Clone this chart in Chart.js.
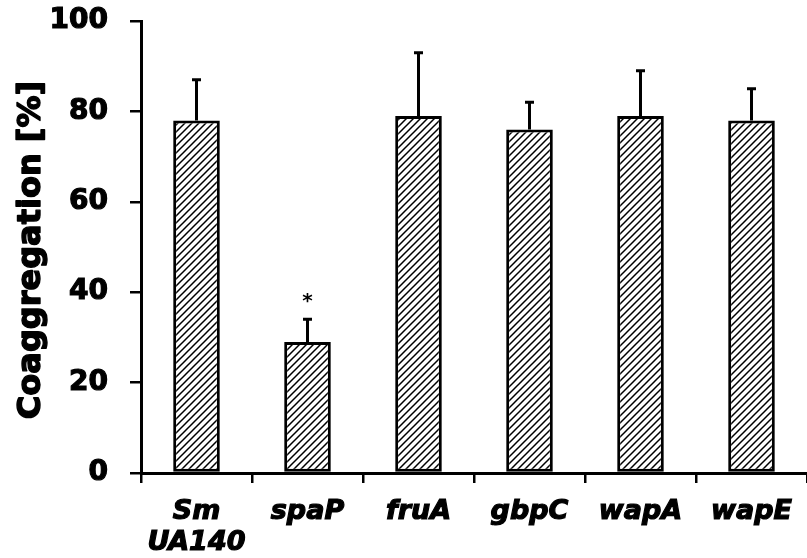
<!DOCTYPE html>
<html>
<head>
<meta charset="utf-8">
<script src="https://cdn.jsdelivr.net/npm/chart.js@4"></script>
<style>
html,body{margin:0;padding:0;background:#fff;overflow:hidden;}
#wrap{width:807px;height:558px;position:relative;overflow:hidden;}
</style>
</head>
<body>
<div id="wrap"><canvas id="c" width="807" height="558"></canvas></div>
<script>
const categories = [['Sm','UA140'], 'spaP', 'fruA', 'gbpC', 'wapA', 'wapE'];
const means = [78, 29, 79, 76, 79, 78];
const errorTops = [87, 34, 93, 82, 89, 85];
const yTicks = [0, 20, 40, 60, 80, 100];
const yTitle = 'Coaggregation [%]';
const starIndex = 1;
const starValue = 38.5;

function hatch() {
  const s = 7;
  const c = document.createElement('canvas');
  c.width = s; c.height = s;
  const g = c.getContext('2d');
  g.fillStyle = '#fff';
  g.fillRect(0, 0, s, s);
  g.strokeStyle = '#000';
  g.lineWidth = 1.5;
  g.beginPath();
  g.moveTo(0, s); g.lineTo(s, 0);
  g.moveTo(-1, 1); g.lineTo(1, -1);
  g.moveTo(s - 1, s + 1); g.lineTo(s + 1, s - 1);
  g.stroke();
  return c.getContext('2d').createPattern(c, 'repeat');
}

const extras = {
  id: 'extras',
  afterDatasetsDraw(chart) {
    const ctx = chart.ctx;
    const y = chart.scales.y;
    const meta = chart.getDatasetMeta(0);
    ctx.save();
    ctx.strokeStyle = '#000';
    ctx.lineWidth = 3;
    meta.data.forEach((bar, i) => {
      const x = bar.x;
      const y0 = y.getPixelForValue(means[i]);
      const y1 = y.getPixelForValue(errorTops[i]);
      ctx.beginPath();
      ctx.moveTo(x, y0);
      ctx.lineTo(x, y1);
      ctx.moveTo(x - 4.5, y1);
      ctx.lineTo(x + 4.5, y1);
      ctx.stroke();
    });
    const sx = meta.data[starIndex].x;
    ctx.fillStyle = '#000';
    ctx.font = 'bold 20px "DejaVu Sans"';
    ctx.textAlign = 'center';
    ctx.textBaseline = 'middle';
    ctx.fillText('*', sx, y.getPixelForValue(starValue) + 3);

    // y-axis title
    ctx.translate(32, (y.top + y.bottom) / 2 + 3);
    ctx.rotate(-Math.PI / 2);
    ctx.font = 'bold 32px "DejaVu Sans"';
    ctx.lineWidth = 1.4;
    ctx.lineJoin = 'round';
    ctx.strokeText(yTitle, 0, 0);
    ctx.fillText(yTitle, 0, 0);
    ctx.restore();
  }
};

new Chart(document.getElementById('c'), {
  type: 'bar',
  data: {
    labels: categories,
    datasets: [{
      data: means,
      backgroundColor: hatch(),
      borderColor: '#000',
      borderWidth: 3,
      borderSkipped: false,
      categoryPercentage: 1,
      barPercentage: 0.42
    }]
  },
  options: {
    responsive: false,
    animation: false,
    devicePixelRatio: 1,
    layout: { padding: { top: 21, right: -8, left: 0, bottom: 0 } },
    plugins: { legend: { display: false }, tooltip: { enabled: false } },
    scales: {
      x: {
        afterFit(s) { s.height = 85; s.paddingLeft = 0; s.paddingRight = 0; },
        grid: { drawOnChartArea: false, drawTicks: true, tickLength: 10, color: '#000', lineWidth: 2.5, offset: true },
        border: { display: true, color: '#000', width: 3 },
        ticks: {
          color: '#000',
          padding: 13,
          maxRotation: 0,
          autoSkip: false,
          textStrokeColor: '#000',
          textStrokeWidth: 1.2,
          font: { family: 'DejaVu Sans', weight: 'bold', style: 'italic', size: 27, lineHeight: 1.15 }
        }
      },
      y: {
        min: 0, max: 100,
        afterFit(s) { s.width = 141; s.paddingTop = 0; s.paddingBottom = 0; },
        afterBuildTicks(s) { s.ticks = yTicks.map(v => ({ value: v })); },
        grid: { drawOnChartArea: false, drawTicks: true, tickLength: 11, color: '#000', lineWidth: 2.5 },
        border: { display: true, color: '#000', width: 3 },
        ticks: {
          color: '#000',
          padding: 22,
          textStrokeColor: '#000',
          textStrokeWidth: 1.2,
          font: { family: 'DejaVu Sans', weight: 'bold', size: 28 }
        },
        title: { display: false }
      }
    }
  },
  plugins: [extras]
});
</script>
</body>
</html>
